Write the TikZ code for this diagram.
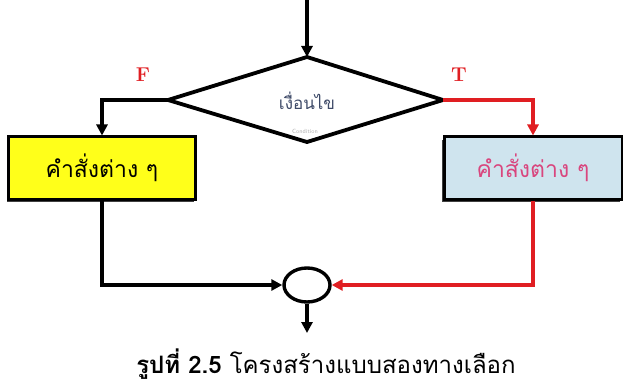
\documentclass[tikz,border=0pt]{standalone}
\usepackage{fontspec}
\newfontfamily\thaifont[Script=Thai]{Loma}
\usetikzlibrary{arrows.meta,shapes.geometric,shadows}
\definecolor{flowred}{HTML}{E01E22}
\definecolor{boxyellow}{HTML}{FFFF1A}
\definecolor{boxblue}{HTML}{CFE4EE}
\definecolor{pinktext}{HTML}{D9467E}
\definecolor{condtext}{HTML}{3E4A68}
\begin{document}
\begin{tikzpicture}[x=1pt,y=-1pt,
  flow/.style={line width=3.6pt,-{Triangle[length=11pt,width=11pt]}},
  plain/.style={line width=3.8pt},
  actbox/.style={draw=black,line width=3pt,minimum height=62pt,inner sep=0pt,
     drop shadow={shadow xshift=-2pt,shadow yshift=-3pt,opacity=1,fill=black!75},
     font=\thaifont\fontsize{23}{27}\selectfont},
  lab/.style={font=\bfseries\fontsize{20}{24}\selectfont,text=flowred},
  merge/.style={draw=black,line width=3.4pt,ellipse,minimum width=46pt,minimum height=34pt,inner sep=0pt}
]
\useasboundingbox (0,0) rectangle (623,390);

% diamond corners
\coordinate (dt) at (307,57);
\coordinate (dl) at (168,100);
\coordinate (dr) at (443,100);
\coordinate (db) at (307,142);
\draw[plain,line join=miter] (dt) -- (dr) -- (db) -- (dl) -- cycle;
\node[font=\thaifont\fontsize{17}{20}\selectfont,text=condtext] (cond) at (307,101) {เงื่อนไข};
\node[font=\sffamily\fontsize{6}{7}\selectfont,text=black!30] (condsub) at (305,131) {Condition};

\coordinate (start) at (307,0);
\draw[flow] (start) -- (dt);

\node[lab] (F) at (143,75) {F};
\node[lab] (T) at (459,75) {T};

\node[actbox,fill=boxyellow,minimum width=187pt] (yb) at (102,168) {คำสั่งต่าง ๆ};
\node[actbox,fill=boxblue,minimum width=178pt,text=pinktext] (bb) at (533,168) {คำสั่งต่าง ๆ};

\node[merge] (m) at (307,285) {};
\coordinate (end) at (307,333);

\draw[flow] (dl) -| (yb.north);
\draw[flow,flowred] (dr) -| (bb.north);
\draw[flow] (yb.south) |- (m.west);
\draw[flow,flowred] (bb.south) |- (m.east);
\draw[flow] (m.south) -- (end);

\node[font=\thaifont\fontsize{24}{29}\selectfont,anchor=base] (cap) at (326,373)
  {\textbf{รูปที่ 2.5} โครงสร้างแบบสองทางเลือก};
\end{tikzpicture}
\end{document}
